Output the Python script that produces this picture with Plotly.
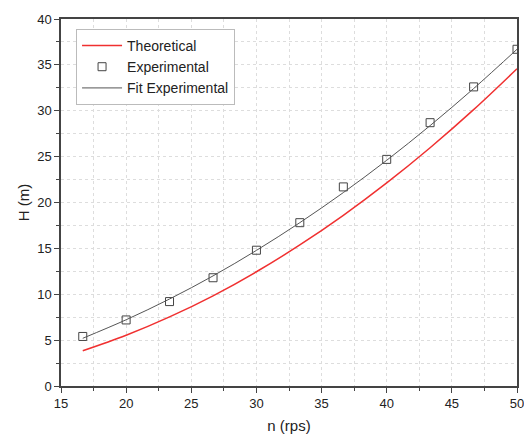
import plotly.graph_objects as go

# rotational speed (rps)
n_rps = [16.67, 20.0, 23.33, 26.67, 30.0, 33.33, 36.67, 40.0, 43.33, 46.67, 50.0]
# head values (m)
h_theoretical = [3.84, 5.53, 7.53, 9.83, 12.45, 15.37, 18.6, 22.13, 25.97, 30.12, 34.58]
h_experimental = [5.4, 7.2, 9.2, 11.8, 14.8, 17.8, 21.7, 24.7, 28.7, 32.6, 36.7]
h_fit = [5.2, 7.22, 9.48, 12.0, 14.78, 17.8, 21.08, 24.6, 28.38, 32.42, 36.7]

fig = go.Figure()
fig.add_trace(go.Scatter(x=n_rps, y=h_theoretical, mode="lines", name="Theoretical",
                         line=dict(color="#f03030", width=1.5, shape="spline")))
fig.add_trace(go.Scatter(x=n_rps, y=h_experimental, mode="markers", name="Experimental",
                         marker=dict(symbol="square-open", size=8, color="#444",
                                     line=dict(width=1))))
fig.add_trace(go.Scatter(x=n_rps, y=h_fit, mode="lines", name="Fit Experimental",
                         line=dict(color="#555", width=1, shape="spline")))

axis = dict(showline=True, linecolor="#444", linewidth=1.5, mirror=True,
            ticks="outside", ticklen=5, tickcolor="#444", automargin=False,
            ticklabeloverflow="allow",
            showgrid=True, gridcolor="#ddd", griddash="dot", gridwidth=1,
            zeroline=False, tickfont=dict(size=13, color="#222"),
            minor=dict(ticks="outside", ticklen=3, tickcolor="#444",
                       showgrid=True, gridcolor="#ddd", griddash="dot"))

fig.update_xaxes(axis, range=[15, 50], dtick=5, minor_dtick=2.5,
                 title=dict(text="n (rps)", font=dict(size=15, color="#222"), standoff=10))
fig.update_yaxes(axis, range=[0, 40], dtick=5, minor_dtick=2.5,
                 title=dict(text="H (m)", font=dict(size=15, color="#222"), standoff=4))

fig.update_layout(
    width=524, height=437,
    margin=dict(l=61, r=7, t=19, b=51, autoexpand=False),
    paper_bgcolor="white", plot_bgcolor="white",
    font=dict(family="Liberation Sans, Arial, sans-serif"),
    showlegend=True,
    legend=dict(x=0.033, y=0.973, xanchor="left", yanchor="top",
                bgcolor="white", bordercolor="#bbb", borderwidth=1,
                font=dict(size=14, color="#222"), tracegroupgap=0,
                itemwidth=40),
)

# drop the default page margin so the figure sits at the window corner
fig.write_html("out.html", config={"displayModeBar": False},
               post_script="document.body.style.margin='0';")
